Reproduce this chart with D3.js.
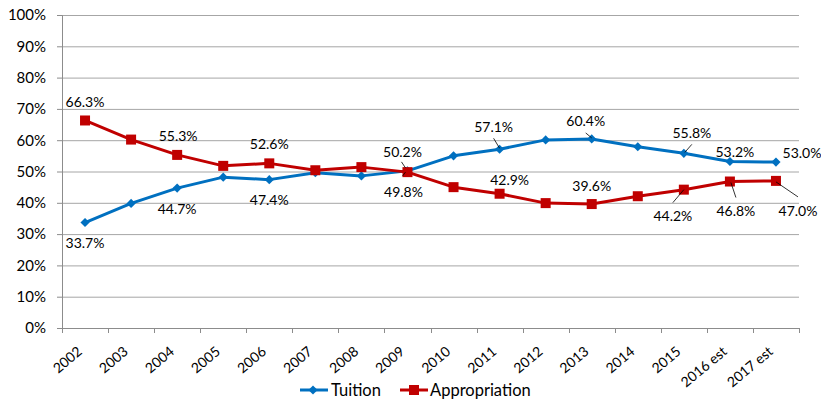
<!DOCTYPE html>
<html>
<head>
<meta charset="utf-8">
<script src="https://cdn.jsdelivr.net/npm/d3@7"></script>
<style>
  html, body { margin: 0; padding: 0; background: #fff; }
  svg { display: block; font-family: Lato, "Open Sans", sans-serif; }
</style>
</head>
<body>
<svg id="chart" width="821" height="401"></svg>
<script>
// ---- data ----
const years = ["2002","2003","2004","2005","2006","2007","2008","2009","2010","2011","2012","2013","2014","2015","2016 est","2017 est"];
const tuition = [33.7, 39.8, 44.7, 48.2, 47.4, 49.6, 48.6, 50.2, 55.0, 57.1, 60.1, 60.4, 57.9, 55.8, 53.2, 53.0];
const appropriation = [66.3, 60.2, 55.3, 51.8, 52.6, 50.4, 51.4, 49.8, 45.0, 42.9, 39.9, 39.6, 42.1, 44.2, 46.8, 47.0];
const yTicks = [0, 10, 20, 30, 40, 50, 60, 70, 80, 90, 100];
const seriesNames = ["Tuition", "Appropriation"];

// label placement (offsets from the point, in px) – layout only
const tuitionLabelPos = [
  {i:0, dx:0, dy:20}, {i:2, dx:0, dy:20}, {i:4, dx:0, dy:20},
  {i:7, dx:-5, dy:-19, lead:[-6,-9,-2,-3]},
  {i:9, dx:-6, dy:-23, lead:[-6,-11,0,-1]},
  {i:11, dx:-6, dy:-18, lead:[-6,-6,0,-1]},
  {i:13, dx:8, dy:-21, lead:[8,-9,1,-1]},
  {i:14, dx:5, dy:-10}, {i:15, dx:26, dy:-10}
];
const approLabelPos = [
  {i:0, dx:0, dy:-19}, {i:2, dx:1, dy:-19}, {i:4, dx:0, dy:-20},
  {i:7, dx:-4, dy:19, lead:[-2,0,-5,4]},
  {i:9, dx:10, dy:-14}, {i:11, dx:0, dy:-19},
  {i:13, dx:-11, dy:26, lead:[-11,13,0,0]},
  {i:14, dx:6, dy:29, lead:[6,16,1,1]},
  {i:15, dx:22, dy:30, lead:[22,16,0,1]}
];

const BLUE = "#0070C0", RED = "#C00000";
const svg = d3.select("#chart");
const L = 62, R = 799, T = 15, B = 328;

const x = d3.scaleBand().domain(years).range([L, R]).padding(0);
const y = d3.scaleLinear().domain([0, 100]).range([B, T]);
const cx = d => x(d) + x.bandwidth() / 2;

// grid lines
svg.append("g")
  .attr("transform", `translate(${L},0)`)
  .call(d3.axisLeft(y).tickValues(yTicks).tickSize(-(R - L)).tickFormat(""))
  .call(g => g.select(".domain").remove())
  .call(g => g.selectAll("line").attr("stroke", "#a6a6a6").attr("stroke-width", 1));

// y axis
svg.append("g")
  .attr("transform", `translate(${L},0)`)
  .call(d3.axisLeft(y).tickValues(yTicks).tickSize(5).tickPadding(11).tickFormat(d => d + "%"))
  .call(g => g.select(".domain").attr("stroke", "#8c8c8c"))
  .call(g => g.selectAll("line").attr("stroke", "#8c8c8c"))
  .call(g => g.selectAll("text").attr("font-family", "Lato, sans-serif").attr("font-size", 15).attr("fill", "#000"));

// x axis line + boundary ticks
const xg = svg.append("g");
xg.append("line").attr("x1", L).attr("x2", R).attr("y1", B + 0.5).attr("y2", B + 0.5).attr("stroke", "#8c8c8c");
xg.selectAll("line.tk").data(years.map(d => x(d)).concat([R]))
  .join("line").attr("class", "tk")
  .attr("x1", d => Math.round(d) + 0.5).attr("x2", d => Math.round(d) + 0.5)
  .attr("y1", B).attr("y2", B + 5).attr("stroke", "#8c8c8c");
xg.selectAll("text").data(years).join("text")
  .attr("transform", d => `translate(${cx(d) - 2},${B + 25}) rotate(-40)`)
  .attr("text-anchor", "end")
  .attr("font-size", 14)
  .attr("fill", "#000")
  .text(d => d);

// lines
const line = d3.line().x((d, i) => cx(years[i])).y(d => y(d));
svg.append("path").datum(tuition).attr("d", line).attr("fill", "none").attr("stroke", BLUE).attr("stroke-width", 3).attr("stroke-linejoin", "round");
svg.append("path").datum(appropriation).attr("d", line).attr("fill", "none").attr("stroke", RED).attr("stroke-width", 3).attr("stroke-linejoin", "round");

// markers
svg.append("g").selectAll("path").data(tuition).join("path")
  .attr("d", d3.symbol().type(d3.symbolSquare).size(42))
  .attr("transform", (d, i) => `translate(${cx(years[i])},${y(d)}) rotate(45)`)
  .attr("fill", BLUE);
svg.append("g").selectAll("rect").data(appropriation).join("rect")
  .attr("x", (d, i) => cx(years[i]) - 5).attr("y", d => y(d) - 5)
  .attr("width", 10).attr("height", 10).attr("fill", RED);

// data labels
function drawLabels(values, pos) {
  const g = svg.append("g");
  pos.forEach(p => {
    const px = cx(years[p.i]), py = y(values[p.i]);
    if (p.lead) {
      g.append("line")
        .attr("x1", px + p.lead[0]).attr("y1", py + p.lead[1])
        .attr("x2", px + p.lead[2]).attr("y2", py + p.lead[3])
        .attr("stroke", "#000").attr("stroke-width", 0.8);
    }
    g.append("text")
      .attr("x", px + p.dx).attr("y", py + p.dy)
      .attr("text-anchor", "middle").attr("dominant-baseline", "central")
      .attr("font-size", 14).attr("fill", "#000")
      .text(values[p.i].toFixed(1) + "%");
  });
}
drawLabels(tuition, tuitionLabelPos);
drawLabels(appropriation, approLabelPos);

// legend
const lg = svg.append("g");
const ly = 390;
lg.append("line").attr("x1", 300).attr("x2", 328).attr("y1", ly).attr("y2", ly).attr("stroke", BLUE).attr("stroke-width", 3);
lg.append("path").attr("d", d3.symbol().type(d3.symbolSquare).size(42)).attr("transform", `translate(313,${ly}) rotate(45)`).attr("fill", BLUE);
lg.append("text").attr("x", 331).attr("y", ly).attr("dominant-baseline", "central").attr("font-size", 16.5).text(seriesNames[0]);
lg.append("line").attr("x1", 400).attr("x2", 428).attr("y1", ly).attr("y2", ly).attr("stroke", RED).attr("stroke-width", 3);
lg.append("rect").attr("x", 409).attr("y", ly - 5).attr("width", 10).attr("height", 10).attr("fill", RED);
lg.append("text").attr("x", 430).attr("y", ly).attr("dominant-baseline", "central").attr("font-size", 16.5).text(seriesNames[1]);
</script>
</body>
</html>
